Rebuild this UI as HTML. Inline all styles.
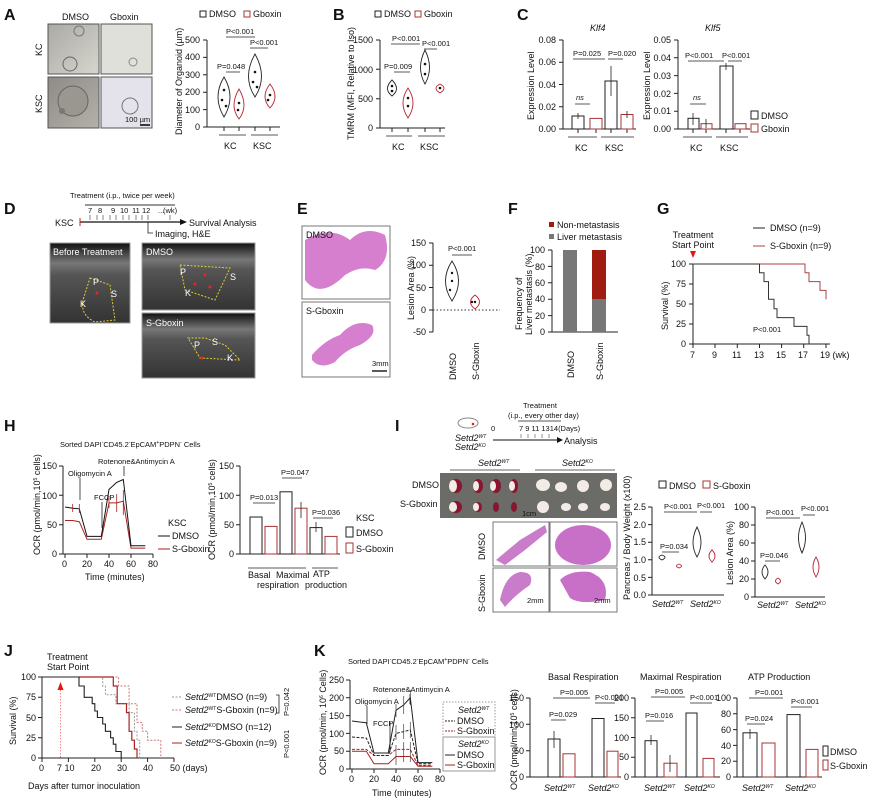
<!DOCTYPE html>
<html><head><meta charset="utf-8"><style>
html,body{margin:0;padding:0;background:#fff}
svg{display:block}
text{font-family:"Liberation Sans",Arial,sans-serif;fill:#111}
.L{font-weight:bold;font-size:16px}
.t{font-size:9px}
.s{font-size:7.5px}
.ax{stroke:#222;stroke-width:1;fill:none}
.k{stroke:#222;stroke-width:1;fill:#fff}
.r{stroke:#a33;stroke-width:1;fill:#fff}
.vk{stroke:#222;stroke-width:0.9;fill:#fff}
.vr{stroke:#b23;stroke-width:0.9;fill:#fff}
.ln{stroke:#222;stroke-width:0.8;fill:none}
</style></head><body>
<svg width="869" height="804" viewBox="0 0 869 804" xmlns="http://www.w3.org/2000/svg">
<defs>
<linearGradient id="us" x1="0" y1="0" x2="0" y2="1"><stop offset="0" stop-color="#111"/><stop offset="0.25" stop-color="#777"/><stop offset="0.4" stop-color="#555"/><stop offset="1" stop-color="#333"/></linearGradient>
<linearGradient id="org" x1="0" y1="0" x2="1" y2="1"><stop offset="0" stop-color="#aaa9a3"/><stop offset="1" stop-color="#d6d6cf"/></linearGradient>
<linearGradient id="org2" x1="0" y1="0" x2="1" y2="1"><stop offset="0" stop-color="#8e8a85"/><stop offset="1" stop-color="#b4b0aa"/></linearGradient>
</defs>

<!-- ================= A ================= -->
<text x="4" y="20" class="L">A</text>
<text x="62" y="20" class="t" font-size="10">DMSO</text><text x="110" y="20" class="t" font-size="10">Gboxin</text>
<rect x="48" y="24" width="51" height="50" fill="url(#org)" stroke="#555"/>
<rect x="101" y="24" width="51" height="50" fill="#dfe0d9" stroke="#555"/>
<rect x="48" y="77" width="51" height="51" fill="url(#org2)" stroke="#555"/>
<rect x="101" y="77" width="51" height="51" fill="#e4e2ea" stroke="#555"/>
<circle cx="79" cy="31" r="5" fill="none" stroke="#777"/><circle cx="70" cy="64" r="7" fill="none" stroke="#666"/>
<circle cx="73" cy="101" r="15" fill="#9a9690" stroke="#666"/><circle cx="130" cy="106" r="8" fill="none" stroke="#777"/>
<circle cx="133" cy="62" r="4" fill="none" stroke="#888"/><circle cx="62" cy="111" r="3" fill="#777"/>
<line x1="140" y1="125" x2="150" y2="125" stroke="#000" stroke-width="1.5"/><text x="125" y="122" class="s" font-size="8">100 µm</text>
<text transform="translate(42,56) rotate(-90)" class="t" font-size="10">KC</text>
<text transform="translate(42,113) rotate(-90)" class="t" font-size="10">KSC</text>

<rect x="200" y="11" width="6" height="6" class="k"/><text x="209" y="17" class="t">DMSO</text>
<rect x="244" y="11" width="6" height="6" class="r"/><text x="253" y="17" class="t">Gboxin</text>
<path class="ax" d="M207,40V127H280M203,40H207M203,57.4H207M203,74.8H207M203,92.2H207M203,109.6H207M203,127H207M224,127V131M239,127V131M255,127V131M270,127V131"/>
<text x="200" y="43" class="t" text-anchor="end">500</text><text x="200" y="60" class="t" text-anchor="end">400</text><text x="200" y="78" class="t" text-anchor="end">300</text><text x="200" y="95" class="t" text-anchor="end">200</text><text x="200" y="113" class="t" text-anchor="end">100</text><text x="200" y="130" class="t" text-anchor="end">0</text>
<text transform="translate(182,135) rotate(-90)" class="t">Diameter of Organoid (µm)</text>
<path class="vk" d="M224,77Q236,97 224,117Q212,97 224,77Z"/><path class="vr" d="M239,89Q249,106 239,119Q229,106 239,89Z"/>
<path class="vk" d="M255,54Q268,77 255,97Q242,77 255,54Z"/><path class="vr" d="M270,84Q280,97 270,108Q260,97 270,84Z"/>
<g fill="#111"><circle cx="224" cy="90" r="1.3"/><circle cx="222" cy="100" r="1.3"/><circle cx="226" cy="106" r="1.3"/><circle cx="239" cy="103" r="1.3"/><circle cx="238" cy="110" r="1.3"/><circle cx="255" cy="72" r="1.3"/><circle cx="253" cy="82" r="1.3"/><circle cx="257" cy="87" r="1.3"/><circle cx="270" cy="95" r="1.3"/><circle cx="268" cy="100" r="1.3"/></g>
<path class="ln" d="M226,72H240M226,37H255M250,48H268M219,135H246M251,135H278"/>
<text x="217" y="69" class="s">P=0.048</text><text x="226" y="34" class="s">P&lt;0.001</text><text x="250" y="45" class="s">P&lt;0.001</text>
<text x="224" y="149" class="t" font-size="10">KC</text><text x="253" y="149" class="t" font-size="10">KSC</text>

<!-- ================= B ================= -->
<text x="333" y="20" class="L">B</text>
<rect x="375" y="11" width="6" height="6" class="k"/><text x="384" y="17" class="t">DMSO</text>
<rect x="415" y="11" width="6" height="6" class="r"/><text x="424" y="17" class="t">Gboxin</text>
<path class="ax" d="M380,40V128H445M376,40H380M376,69.3H380M376,98.7H380M376,128H380M392,128V132M408,128V132M425,128V132M440,128V132"/>
<text x="373" y="43" class="t" text-anchor="end">1500</text><text x="373" y="73" class="t" text-anchor="end">1000</text><text x="373" y="102" class="t" text-anchor="end">500</text><text x="373" y="131" class="t" text-anchor="end">0</text>
<text transform="translate(354,140) rotate(-90)" class="t">TMRM (MFI, Relative to Iso)</text>
<path class="vk" d="M392,80Q401,89 392,96Q383,89 392,80Z"/><path class="vr" d="M408,88Q418,103 408,118Q398,103 408,88Z"/>
<path class="vk" d="M425,50Q434,68 425,84Q416,68 425,50Z"/><path class="vr" d="M440,84Q448,88 440,93Q432,88 440,84Z"/>
<g fill="#111"><circle cx="392" cy="86" r="1.3"/><circle cx="392" cy="91" r="1.3"/><circle cx="408" cy="98" r="1.3"/><circle cx="408" cy="106" r="1.3"/><circle cx="425" cy="64" r="1.3"/><circle cx="425" cy="74" r="1.3"/><circle cx="440" cy="88" r="1.3"/></g>
<path class="ln" d="M394,72H410M391,44H420M424,49H437M386,136H412M418,136H445"/>
<text x="384" y="69" class="s">P=0.009</text><text x="392" y="41" class="s">P&lt;0.001</text><text x="422" y="46" class="s">P&lt;0.001</text>
<text x="392" y="150" class="t" font-size="10">KC</text><text x="420" y="150" class="t" font-size="10">KSC</text>

<!-- ================= C ================= -->
<text x="517" y="20" class="L">C</text>
<text x="590" y="31" class="t" font-style="italic" font-size="10">Klf4</text>
<text x="705" y="31" class="t" font-style="italic" font-size="10">Klf5</text>
<path class="ax" d="M563,40V129H636M559,40H563M559,62.2H563M559,84.5H563M559,106.7H563M559,129H563M578,129V133M596,129V133M611,129V133M627,129V133"/>
<text x="556" y="43" class="t" text-anchor="end">0.08</text><text x="556" y="65" class="t" text-anchor="end">0.06</text><text x="556" y="88" class="t" text-anchor="end">0.04</text><text x="556" y="110" class="t" text-anchor="end">0.02</text><text x="556" y="132" class="t" text-anchor="end">0.00</text>
<text transform="translate(534,120) rotate(-90)" class="t" font-size="10">Expression Level</text>
<rect x="572" y="116" width="12" height="13" class="k"/><rect x="590" y="118.4" width="12" height="10.6" class="r"/><rect x="605" y="81" width="12" height="48" class="k"/><rect x="621" y="114.5" width="12" height="14.5" class="r"/>
<path class="ln" d="M578,113V119M611,66V96M627,111V118M575,104H590M573,59H605M608,59H623M568,137H597M601,137H634"/>
<text x="576" y="100" class="s" font-style="italic">ns</text><text x="573" y="56" class="s">P=0.025</text><text x="608" y="56" class="s">P=0.020</text>
<text x="575" y="151" class="t" font-size="10">KC</text><text x="605" y="151" class="t" font-size="10">KSC</text>

<path class="ax" d="M678,40V129H750M674,40H678M674,57.8H678M674,75.6H678M674,93.4H678M674,111.2H678M674,129H678M693,129V133M706,129V133M726,129V133M740,129V133"/>
<text x="671" y="43" class="t" text-anchor="end">0.05</text><text x="671" y="61" class="t" text-anchor="end">0.04</text><text x="671" y="79" class="t" text-anchor="end">0.03</text><text x="671" y="97" class="t" text-anchor="end">0.02</text><text x="671" y="114" class="t" text-anchor="end">0.01</text><text x="671" y="132" class="t" text-anchor="end">0.00</text>
<text transform="translate(650,120) rotate(-90)" class="t" font-size="10">Expression Level</text>
<rect x="688" y="118.3" width="11" height="10.7" class="k"/><rect x="701" y="123.7" width="11" height="5.3" class="r"/><rect x="720" y="66" width="13" height="63" class="k"/><rect x="735" y="123.7" width="11" height="5.3" class="r"/>
<path class="ln" d="M693,113V125M706,119V128M726,63V70M690,104H706M688,61H724M728,61H742M683,137H712M716,137H748"/>
<text x="693" y="100" class="s" font-style="italic">ns</text><text x="685" y="58" class="s">P&lt;0.001</text><text x="722" y="58" class="s">P&lt;0.001</text>
<text x="690" y="151" class="t" font-size="10">KC</text><text x="720" y="151" class="t" font-size="10">KSC</text>
<rect x="751" y="111" width="7" height="8" class="k"/><text x="761" y="119" class="t" font-size="10">DMSO</text>
<rect x="751" y="124" width="7" height="8" class="r"/><text x="761" y="132" class="t" font-size="10">Gboxin</text>

<!-- ================= D ================= -->
<text x="4" y="214" class="L">D</text>
<text x="70" y="198" class="s" font-size="8.5">Treatment (i.p., twice per week)</text>
<line x1="85" y1="205" x2="175" y2="205" stroke="#777" stroke-width="1.5"/>
<text x="88" y="213" class="s">7</text><text x="98" y="213" class="s">8</text><text x="111" y="213" class="s">9</text><text x="120" y="213" class="s">10</text><text x="132" y="213" class="s">11</text><text x="142" y="213" class="s">12</text><text x="158" y="213" class="s">...</text><text x="163" y="213" class="s">(wk)</text>
<path d="M90,215V220M97,215V220M103,215V220M110,215V220M116,215V220M123,215V220M129,215V220M136,215V220M142,215V220M148,215V220M170,215V220" stroke="#666" stroke-width="0.8"/>
<text x="55" y="226" class="t" font-size="10">KSC</text>
<line x1="80" y1="222" x2="180" y2="222" stroke="#111" stroke-width="1.3"/><path d="M180,219L187,222L180,225Z" fill="#111"/><line x1="80" y1="218" x2="80" y2="226" stroke="#c22"/>
<text x="189" y="226" class="t" font-size="9.5">Survival Analysis</text>
<path d="M148,222V233H153" class="ln"/><text x="155" y="237" class="t">Imaging, H&amp;E</text>
<rect x="50" y="243" width="80" height="80" fill="url(#us)" stroke="#999"/>
<rect x="142" y="243" width="113" height="67" fill="url(#us)" stroke="#999"/>
<rect x="142" y="313" width="113" height="65" fill="url(#us)" stroke="#999"/>
<text x="53" y="255" class="t" font-size="10" style="fill:#fff">Before Treatment</text>
<text x="146" y="255" class="t" font-size="10" style="fill:#fff">DMSO</text>
<text x="146" y="326" class="t" font-size="10" style="fill:#fff">S-Gboxin</text>
<path d="M90,278L110,285L115,320L95,322Q80,315 83,300Z" fill="none" stroke="#dc3" stroke-dasharray="2,1.5"/>
<path d="M180,265L230,268L215,300L185,290Z" fill="none" stroke="#dc3" stroke-dasharray="2,1.5"/>
<path d="M188,338L205,338L225,345L240,360L200,358Z" fill="none" stroke="#dc3" stroke-dasharray="2,1.5"/>
<g class="t" font-size="10" style="fill:#fff"><text x="93" y="285" style="fill:#fff">P</text><text x="80" y="307" style="fill:#fff">K</text><text x="111" y="297" style="fill:#fff">S</text><text x="180" y="275" style="fill:#fff">P</text><text x="185" y="296" style="fill:#fff">K</text><text x="230" y="280" style="fill:#fff">S</text><text x="194" y="348" style="fill:#fff">P</text><text x="212" y="345" style="fill:#fff">S</text><text x="227" y="361" style="fill:#fff">K</text></g>
<g fill="#e22"><circle cx="97" cy="293" r="1.5"/><circle cx="205" cy="275" r="1.5"/><circle cx="195" cy="284" r="1.5"/><circle cx="210" cy="287" r="1.5"/><circle cx="202" cy="358" r="1.5"/></g>

<!-- ================= E ================= -->
<text x="297" y="214" class="L">E</text>
<rect x="302" y="226" width="88" height="73" fill="#fff" stroke="#777"/>
<rect x="302" y="302" width="88" height="75" fill="#fff" stroke="#777"/>
<path d="M305,240Q330,225 350,240Q365,225 385,235Q392,260 375,270Q360,265 345,275Q320,300 305,280Z" fill="#d77fcf"/>
<path d="M312,355Q325,340 340,335Q355,318 372,325Q378,335 360,345Q345,350 335,362Q320,370 312,360Z" fill="#d77fcf"/>
<text x="306" y="238" class="t" font-size="10">DMSO</text><text x="306" y="314" class="t" font-size="10">S-Gboxin</text>
<text x="372" y="366" class="s" font-size="6">3mm</text><line x1="372" y1="371" x2="387" y2="371" stroke="#000" stroke-width="1.3"/>
<path class="ax" d="M433,243V332M429,243H433M429,265.3H433M429,287.5H433M429,310H433M429,332H433"/>
<text x="426" y="246" class="t" text-anchor="end">150</text><text x="426" y="268" class="t" text-anchor="end">100</text><text x="426" y="291" class="t" text-anchor="end">50</text><text x="426" y="313" class="t" text-anchor="end">0</text><text x="426" y="335" class="t" text-anchor="end">-50</text>
<text transform="translate(414,320) rotate(-90)" class="t">Lesion Area (%)</text>
<line x1="433" y1="310" x2="500" y2="310" stroke="#333" stroke-dasharray="1.5,2"/>
<path class="vk" d="M452,261Q465,281 452,301Q439,281 452,261Z"/><path class="vr" d="M475,295Q484,302 475,309Q466,302 475,295Z"/>
<g fill="#111"><circle cx="452" cy="273" r="1.2"/><circle cx="452" cy="281" r="1.2"/><circle cx="450" cy="290" r="1.2"/><circle cx="475" cy="302" r="1.2"/><circle cx="472" cy="302" r="1.2"/></g>
<path class="ln" d="M452,255H472"/><text x="448" y="251" class="s">P&lt;0.001</text>
<text transform="translate(456,380) rotate(-90)" class="t" font-size="10">DMSO</text>
<text transform="translate(479,380) rotate(-90)" class="t" font-size="10">S-Gboxin</text>

<!-- ================= F ================= -->
<text x="508" y="214" class="L">F</text>
<rect x="549" y="222" width="5" height="5" fill="#a01b10"/><text x="557" y="228" class="t" font-size="9.5">Non-metastasis</text>
<rect x="549" y="234" width="5" height="5" fill="#777"/><text x="557" y="240" class="t" font-size="9.5">Liver metastasis</text>
<path class="ax" d="M552,250V332H618M548,250H552M548,266.4H552M548,282.8H552M548,299.2H552M548,315.6H552M548,332H552"/>
<text x="545" y="253" class="t" text-anchor="end">100</text><text x="545" y="270" class="t" text-anchor="end">80</text><text x="545" y="286" class="t" text-anchor="end">60</text><text x="545" y="302" class="t" text-anchor="end">40</text><text x="545" y="319" class="t" text-anchor="end">20</text><text x="545" y="335" class="t" text-anchor="end">0</text>
<text transform="translate(522,330) rotate(-90)" class="t">Frequency of</text><text transform="translate(532,335) rotate(-90)" class="t">Liver metastasis (%)</text>
<rect x="563" y="250" width="14" height="82" fill="#777"/>
<rect x="592" y="250" width="14" height="49" fill="#a01b10"/><rect x="592" y="299" width="14" height="33" fill="#777"/>
<text transform="translate(574,378) rotate(-90)" class="t" font-size="10">DMSO</text>
<text transform="translate(603,380) rotate(-90)" class="t" font-size="10">S-Gboxin</text>

<!-- ================= G ================= -->
<text x="657" y="214" class="L">G</text>
<path d="M753,228H765" stroke="#222"/><text x="770" y="231" class="t">DMSO (n=9)</text>
<path d="M753,246H765" stroke="#a44"/><text x="770" y="249" class="t">S-Gboxin (n=9)</text>
<text x="693" y="238" class="t" text-anchor="middle">Treatment</text><text x="693" y="248" class="t" text-anchor="middle">Start Point</text>
<path d="M690,251H696L693,258Z" fill="#e11"/>
<path class="ax" d="M693,264V344H830M689,264H693M689,284H693M689,304H693M689,324H693M689,344H693M693,344V348M715,344V348M737.3,344V348M759.5,344V348M781.6,344V348M803.7,344V348M826,344V348"/>
<text x="686" y="267" class="t" text-anchor="end">100</text><text x="686" y="287" class="t" text-anchor="end">75</text><text x="686" y="307" class="t" text-anchor="end">50</text><text x="686" y="327" class="t" text-anchor="end">25</text><text x="686" y="347" class="t" text-anchor="end">0</text>
<text transform="translate(668,330) rotate(-90)" class="t">Survival (%)</text>
<text x="690" y="358" class="t">7</text><text x="712" y="358" class="t">9</text><text x="732" y="358" class="t">11</text><text x="754" y="358" class="t">13</text><text x="776" y="358" class="t">15</text><text x="798" y="358" class="t">17</text><text x="820" y="358" class="t">19 (wk)</text>
<path d="M759.5,264H805V272.8H809V281.6H820V290.4H826V299.2" stroke="#a44" fill="none"/>
<path d="M693,264H759.5V272.8H764V281.6H768.5V299.2H774V308.8H777V317.6H794V326.4H807V335.2H809V344" stroke="#333" fill="none"/>
<text x="753" y="332" class="s">P&lt;0.001</text>

<!-- ================= H ================= -->
<text x="4" y="431" class="L">H</text>
<text x="60" y="447" class="s" font-size="8">Sorted DAPI<tspan font-size="5" dy="-3">-</tspan><tspan dy="3">CD45.2</tspan><tspan font-size="5" dy="-3">-</tspan><tspan dy="3">EpCAM</tspan><tspan font-size="5" dy="-3">+</tspan><tspan dy="3">PDPN</tspan><tspan font-size="5" dy="-3">-</tspan><tspan dy="3"> Cells</tspan></text>
<path class="ax" d="M63,466V554H153M59,466H63M59,495.3H63M59,524.7H63M59,554H63M65,554V558M87,554V558M109,554V558M131,554V558M153,554V558"/>
<text x="57" y="469" class="t" text-anchor="end">150</text><text x="57" y="499" class="t" text-anchor="end">100</text><text x="57" y="528" class="t" text-anchor="end">50</text><text x="57" y="557" class="t" text-anchor="end">0</text>
<text x="62" y="567" class="t">0</text><text x="82" y="567" class="t">20</text><text x="104" y="567" class="t">40</text><text x="126" y="567" class="t">60</text><text x="148" y="567" class="t">80</text>
<text x="85" y="580" class="t" font-size="10">Time (minutes)</text>
<text transform="translate(40,555) rotate(-90)" class="t">OCR (pmol/min,10<tspan font-size="5" dy="-3">5</tspan><tspan dy="3"> cells)</tspan></text>
<polyline points="65,520.5 72.7,520.5 79.3,521.7 87,539.3 94.7,539.3 101.3,539.3 109,502.9 116.7,502.9 123.3,501.2 131,548.1 138.7,548.1 145.3,548.1" fill="none" stroke="#a22" stroke-width="1"/>
<polyline points="65,507 72.7,508.2 79.3,508.8 87,536.4 94.7,536.4 101.3,536.4 109,489.4 116.7,482.4 123.3,479.5 131,545.8 138.7,545.8 145.3,545.8" fill="none" stroke="#111" stroke-width="1"/>
<path d="M109,496V508M116.7,494V512M123.3,490V515M72.7,504V512M79.3,504V513" stroke="#a22" stroke-width="0.8"/>
<text x="68" y="476" class="s">Oligomycin A</text><path d="M80,478V500" class="ln"/>
<text x="94" y="500" class="s">FCCP</text><path d="M102,502V528" class="ln"/>
<text x="98" y="464" class="s">Rotenone&amp;Antimycin A</text><path d="M124,466V476" class="ln"/>
<text x="168" y="526" class="t" font-size="9.5">KSC</text>
<path d="M158,536H170" stroke="#111"/><text x="172" y="539" class="t" font-size="9.5">DMSO</text>
<path d="M158,549H170" stroke="#a22"/><text x="172" y="552" class="t" font-size="9.5">S-Gboxin</text>

<path class="ax" d="M240,466V554H340M236,466H240M236,495.3H240M236,524.7H240M236,554H240"/>
<text x="234" y="469" class="t" text-anchor="end">150</text><text x="234" y="499" class="t" text-anchor="end">100</text><text x="234" y="528" class="t" text-anchor="end">50</text><text x="234" y="557" class="t" text-anchor="end">0</text>
<text transform="translate(215,560) rotate(-90)" class="t">OCR (pmol/min,10<tspan font-size="5" dy="-3">5</tspan><tspan dy="3"> cells)</tspan></text>
<rect x="250" y="517" width="12" height="37" class="k"/><rect x="265" y="526.4" width="12" height="27.6" class="r"/>
<rect x="280" y="491.8" width="12" height="62.2" class="k"/><rect x="295" y="508.2" width="12" height="45.8" class="r"/>
<rect x="310" y="527.6" width="12" height="26.4" class="k"/><rect x="325" y="536.4" width="12" height="17.6" class="r"/>
<path class="ln" d="M253,503H275M282,478H302M313,518H333M248,568H306M312,568H338M301,502V518M316,522V532"/>
<text x="250" y="500" class="s">P=0.013</text><text x="281" y="475" class="s">P=0.047</text><text x="312" y="515" class="s">P=0.036</text>
<text x="248" y="578" class="t" font-size="9.5">Basal</text><text x="276" y="578" class="t" font-size="9.5">Maximal</text><text x="313" y="577" class="t" font-size="9.5">ATP</text>
<text x="257" y="588" class="t" font-size="9.5">respiration</text><text x="305" y="588" class="t" font-size="9.5">production</text>
<text x="356" y="521" class="t" font-size="9.5">KSC</text>
<rect x="346" y="527" width="7" height="10" class="k"/><text x="356" y="536" class="t" font-size="9.5">DMSO</text>
<rect x="346" y="543" width="7" height="10" class="r"/><text x="356" y="552" class="t" font-size="9.5">S-Gboxin</text>

<!-- ================= I ================= -->
<text x="395" y="431" class="L">I</text>
<ellipse cx="468" cy="423" rx="10" ry="5" fill="#fff" stroke="#888"/><circle cx="473" cy="424" r="1.3" fill="#d22"/>
<text x="491" y="431" class="s">0</text>
<text x="523" y="408" class="s">Treatment</text><text x="508" y="418" class="s" font-size="6">(i.p., every other day)</text>
<line x1="518" y1="421" x2="561" y2="421" stroke="#555"/>
<text x="519" y="431" class="s">7  9 11 1314(Days)</text>
<path d="M521,434V438M528,434V438M535,434V438M542,434V438M549,434V438" stroke="#666" stroke-width="0.7"/>
<line x1="493" y1="440" x2="558" y2="440" stroke="#111"/><path d="M557,437L563,440L557,443Z" fill="#111"/>
<text x="564" y="444" class="t" font-size="9.5">Analysis</text>
<text x="455" y="441" class="t" font-style="italic">Setd2<tspan font-size="5" dy="-3">WT</tspan></text>
<text x="455" y="450" class="t" font-style="italic">Setd2<tspan font-size="5" dy="-3">KO</tspan></text>
<text x="478" y="466" class="t" font-style="italic">Setd2<tspan font-size="5" dy="-3">WT</tspan></text>
<text x="562" y="466" class="t" font-style="italic">Setd2<tspan font-size="5" dy="-3">KO</tspan></text>
<path d="M450,470H520M535,470H615" stroke="#666"/>
<text x="412" y="488" class="t">DMSO</text><text x="400" y="507" class="t">S-Gboxin</text>
<rect x="440" y="473" width="177" height="45" fill="#6b6b68"/>
<g fill="#8a1530"><ellipse cx="456" cy="486" rx="6" ry="7"/><ellipse cx="478" cy="486" rx="5" ry="7"/><ellipse cx="496" cy="486" rx="5" ry="7"/><ellipse cx="514" cy="486" rx="4" ry="7"/><ellipse cx="456" cy="507" rx="6" ry="6"/><ellipse cx="478" cy="507" rx="4" ry="5"/><ellipse cx="496" cy="507" rx="3" ry="5"/><ellipse cx="514" cy="507" rx="3" ry="5"/></g>
<g fill="#f2ebe6"><ellipse cx="453" cy="486" rx="4" ry="6"/><ellipse cx="476" cy="486" rx="3" ry="5"/><ellipse cx="493" cy="486" rx="3" ry="5"/><ellipse cx="512" cy="486" rx="3" ry="5"/><ellipse cx="543" cy="485" rx="7" ry="6"/><ellipse cx="561" cy="487" rx="6" ry="5"/><ellipse cx="583" cy="486" rx="6" ry="6"/><ellipse cx="606" cy="485" rx="6" ry="6"/><ellipse cx="453" cy="507" rx="4" ry="5"/><ellipse cx="476" cy="507" rx="3" ry="4"/><ellipse cx="543" cy="507" rx="6" ry="6"/><ellipse cx="566" cy="507" rx="5" ry="4"/><ellipse cx="583" cy="507" rx="5" ry="4"/><ellipse cx="605" cy="507" rx="5" ry="4"/></g>
<text x="522" y="516" class="s" font-size="6">1cm</text>
<rect x="493" y="522" width="56" height="44" fill="#fff" stroke="#777"/><rect x="550" y="522" width="67" height="44" fill="#fff" stroke="#777"/>
<rect x="493" y="568" width="56" height="44" fill="#fff" stroke="#777"/><rect x="550" y="568" width="67" height="44" fill="#fff" stroke="#777"/>
<path d="M496,560L520,540L545,525L547,532L525,550L505,565Z" fill="#c97cc9"/>
<ellipse cx="583" cy="545" rx="28" ry="20" fill="#c870c8"/>
<path d="M500,600Q505,575 520,572Q535,572 530,585Q515,595 505,607Z" fill="#c97cc9"/>
<path d="M560,580Q570,570 590,572Q610,580 605,600Q580,605 570,598Z" fill="#c870c8"/>
<text transform="translate(485,560) rotate(-90)" class="t">DMSO</text><text transform="translate(485,612) rotate(-90)" class="t">S-Gboxin</text>
<text x="527" y="603" class="s" font-size="7">2mm</text><text x="594" y="603" class="s" font-size="7">2mm</text>

<rect x="659" y="481" width="7" height="7" class="k"/><text x="669" y="489" class="t" font-size="9.5">DMSO</text>
<rect x="703" y="481" width="7" height="7" class="r"/><text x="713" y="489" class="t" font-size="9.5">S-Gboxin</text>
<path class="ax" d="M652,507V595H724M648,507H652M648,524.6H652M648,542.2H652M648,559.8H652M648,577.4H652M648,595H652"/>
<text x="646" y="510" class="t" text-anchor="end">2.5</text><text x="646" y="528" class="t" text-anchor="end">2.0</text><text x="646" y="545" class="t" text-anchor="end">1.5</text><text x="646" y="563" class="t" text-anchor="end">1.0</text><text x="646" y="581" class="t" text-anchor="end">0.5</text><text x="646" y="598" class="t" text-anchor="end">0.0</text>
<text transform="translate(630,600) rotate(-90)" class="t">Pancreas / Body Weight (x100)</text>
<path class="vk" d="M662,555Q668,557 662,560Q656,557 662,555Z"/><path class="vr" d="M679,564Q684,566 679,568Q674,566 679,564Z"/>
<path class="vk" d="M697,527Q705,543 697,557Q689,543 697,527Z"/><path class="vr" d="M712,550Q718,556 712,562Q706,556 712,550Z"/>
<path class="ln" d="M662,552H679M664,512H697M700,512H712"/>
<text x="660" y="549" class="s">P=0.034</text><text x="664" y="509" class="s">P&lt;0.001</text><text x="697" y="508" class="s">P&lt;0.001</text>
<text x="652" y="607" class="t" font-style="italic">Setd2<tspan font-size="5" dy="-3">WT</tspan></text><text x="690" y="607" class="t" font-style="italic">Setd2<tspan font-size="5" dy="-3">KO</tspan></text>
<path class="ax" d="M755,507V597H825M751,507H755M751,525H755M751,543H755M751,561H755M751,579H755M751,597H755"/>
<text x="749" y="510" class="t" text-anchor="end">100</text><text x="749" y="528" class="t" text-anchor="end">80</text><text x="749" y="546" class="t" text-anchor="end">60</text><text x="749" y="564" class="t" text-anchor="end">40</text><text x="749" y="582" class="t" text-anchor="end">20</text><text x="749" y="600" class="t" text-anchor="end">0</text>
<text transform="translate(733,585) rotate(-90)" class="t">Lesion Area (%)</text>
<path class="vk" d="M765,565Q771,572 765,579Q759,572 765,565Z"/><path class="vr" d="M778,578Q783,581 778,584Q773,581 778,578Z"/>
<path class="vk" d="M802,522Q809,538 802,553Q795,538 802,522Z"/><path class="vr" d="M816,557Q822,567 816,577Q810,567 816,557Z"/>
<path class="ln" d="M765,561H780M766,518H800M803,515H815"/>
<text x="760" y="558" class="s">P=0.046</text><text x="766" y="515" class="s">P&lt;0.001</text><text x="801" y="511" class="s">P&lt;0.001</text>
<text x="757" y="608" class="t" font-style="italic">Setd2<tspan font-size="5" dy="-3">WT</tspan></text><text x="795" y="608" class="t" font-style="italic">Setd2<tspan font-size="5" dy="-3">KO</tspan></text>

<!-- ================= J ================= -->
<text x="4" y="656" class="L">J</text>
<text x="47" y="660" class="t">Treatment</text><text x="47" y="670" class="t">Start Point</text>
<path class="ax" d="M42,677V758H174M38,677H42M38,697.3H42M38,717.5H42M38,737.8H42M38,758H42M42,758V762M68.4,758V762M94.8,758V762M121.2,758V762M147.6,758V762M174,758V762"/>
<text x="36" y="680" class="t" text-anchor="end">100</text><text x="36" y="700" class="t" text-anchor="end">75</text><text x="36" y="721" class="t" text-anchor="end">50</text><text x="36" y="741" class="t" text-anchor="end">25</text><text x="36" y="761" class="t" text-anchor="end">0</text>
<text transform="translate(16,745) rotate(-90)" class="t">Survival (%)</text>
<text x="39" y="771" class="t">0</text><text x="57" y="771" class="t">7 10</text><text x="91" y="771" class="t">20</text><text x="117" y="771" class="t">30</text><text x="143" y="771" class="t">40</text><text x="170" y="771" class="t">50 (days)</text>
<text x="28" y="789" class="t" font-size="10">Days after tumor inoculation</text>
<line x1="42" y1="677" x2="79" y2="677" stroke="#555" stroke-dasharray="2,1.5"/>
<line x1="60.5" y1="690" x2="60.5" y2="758" stroke="#e88" stroke-dasharray="1.5,1.5"/><path d="M57.5,690H63.5L60.5,682Z" fill="#e11"/>
<path d="M42,677H118.6V686H129.1V703.7H137V722.4H142.3V731.3H147.6V740.2H160.8V758" stroke="#c77" stroke-dasharray="2,1.5" fill="none"/>
<path d="M79,677H102.7V686H105.4V694.8H115.9V703.7H129.1V712.6H134.4V731.3H137V740.2H139.7V758" stroke="#999" stroke-dasharray="2,1.5" fill="none"/>
<path d="M79,677H113.3V686H117.2V703.7H126.5V712.6H129.1V731.3H131.8V740.2H134.4V749H137V758" stroke="#a22" stroke-width="1.2" fill="none"/>
<path d="M42,677H79V686H84.2V697.3H92.2V703.7H94.8V711H97.4V717.5H102.7V724H105.4V731.3H110.6V737.8H113.3V744.2H115.9V751.5H121.2V758" stroke="#222" stroke-width="1.1" fill="none"/>
<path d="M172,697H182" stroke="#999" stroke-dasharray="2,1.5"/><text x="185" y="700" class="t" font-size="9.5"><tspan font-style="italic">Setd2</tspan><tspan font-size="5" dy="-3">WT</tspan><tspan dy="3">DMSO (n=9)</tspan></text>
<path d="M172,710H182" stroke="#c77" stroke-dasharray="2,1.5"/><text x="185" y="713" class="t" font-size="9.5"><tspan font-style="italic">Setd2</tspan><tspan font-size="5" dy="-3">WT</tspan><tspan dy="3">S-Gboxin (n=9)</tspan></text>
<path d="M172,727H182" stroke="#222"/><text x="185" y="730" class="t" font-size="9.5"><tspan font-style="italic">Setd2</tspan><tspan font-size="5" dy="-3">KO</tspan><tspan dy="3">DMSO (n=12)</tspan></text>
<path d="M172,743H182" stroke="#a22"/><text x="185" y="746" class="t" font-size="9.5"><tspan font-style="italic">Setd2</tspan><tspan font-size="5" dy="-3">KO</tspan><tspan dy="3">S-Gboxin (n=9)</tspan></text>
<path class="ln" d="M276,695H279V713H276"/>
<text transform="translate(289,716) rotate(-90)" class="s">P=0.042</text>
<text transform="translate(289,758) rotate(-90)" class="s">P&lt;0.001</text>

<!-- ================= K ================= -->
<text x="314" y="656" class="L">K</text>
<text x="348" y="664" class="s" font-size="8">Sorted DAPI<tspan font-size="5" dy="-3">-</tspan><tspan dy="3">CD45.2</tspan><tspan font-size="5" dy="-3">-</tspan><tspan dy="3">EpCAM</tspan><tspan font-size="5" dy="-3">+</tspan><tspan dy="3">PDPN</tspan><tspan font-size="5" dy="-3">-</tspan><tspan dy="3"> Cells</tspan></text>
<path class="ax" d="M350,680V769H440M346,680H350M346,697.8H350M346,715.6H350M346,733.4H350M346,751.2H350M346,769H350M352,769V773M374,769V773M396,769V773M418,769V773M440,769V773"/>
<text x="344" y="683" class="t" text-anchor="end">250</text><text x="344" y="701" class="t" text-anchor="end">200</text><text x="344" y="719" class="t" text-anchor="end">150</text><text x="344" y="737" class="t" text-anchor="end">100</text><text x="344" y="754" class="t" text-anchor="end">50</text><text x="344" y="772" class="t" text-anchor="end">0</text>
<text x="349" y="782" class="t">0</text><text x="369" y="782" class="t">20</text><text x="391" y="782" class="t">40</text><text x="413" y="782" class="t">60</text><text x="435" y="782" class="t">80</text>
<text x="372" y="796" class="t" font-size="10">Time (minutes)</text>
<text transform="translate(326,775) rotate(-90)" class="t">OCR (pmol/min, 10<tspan font-size="5" dy="-3">6</tspan><tspan dy="3"> Cells)</tspan></text>
<polyline points="352,749.4 359.7,749.4 366.3,749.4 374,755.5 381.7,755.5 388.3,755.5 396,749.4 403.7,749.4 410.3,749.4 418,765.4 425.7,765.4 432.3,765.4" fill="none" stroke="#a22" stroke-dasharray="3,1.5"/>
<polyline points="352,751.2 359.7,751.2 366.3,751.2 374,763.7 381.7,763.7 388.3,763.7 396,756.5 403.7,756.5 410.3,756.5 418,766.2 425.7,766.2 432.3,766.2" fill="none" stroke="#a22"/>
<polyline points="352,737 359.7,737.7 366.3,738 374,755.5 381.7,755.5 388.3,755.5 396,733.4 403.7,731.6 410.3,729.8 418,763.7 425.7,763.7 432.3,763.7" fill="none" stroke="#222" stroke-dasharray="3,1.5"/>
<polyline points="352,721 359.7,722 366.3,722.7 374,753 381.7,753 388.3,753 396,710.3 403.7,704.9 410.3,697.8 418,762.6 425.7,762.6 432.3,762.6" fill="none" stroke="#222"/>
<path d="M396,704V717M403.7,696V714M410.3,690V705M396,725V740M403.7,724V739M410.3,722V738M396,745V765M403.7,742V762M410.3,742V762" stroke="#444" stroke-width="0.7"/>
<text x="355" y="704" class="s">Oligomycin A</text><path d="M367,706V724" class="ln"/>
<text x="373" y="726" class="s">FCCP</text><path d="M390,722V752" class="ln"/>
<text x="373" y="692" class="s">Rotenone&amp;Antimycin A</text><path d="M410,694V704" class="ln"/>
<rect x="443" y="702" width="52" height="35" fill="none" stroke="#999" stroke-dasharray="1.5,1.5"/>
<rect x="443" y="737" width="52" height="34" fill="none" stroke="#999"/>
<text x="458" y="713" class="t" font-style="italic">Setd2<tspan font-size="5" dy="-3">WT</tspan></text>
<path d="M445,721H455" stroke="#222" stroke-dasharray="2,1"/><text x="457" y="724" class="t" font-size="9.5">DMSO</text>
<path d="M445,731H455" stroke="#a22" stroke-dasharray="2,1"/><text x="457" y="734" class="t" font-size="9.5">S-Gboxin</text>
<text x="458" y="747" class="t" font-style="italic">Setd2<tspan font-size="5" dy="-3">KO</tspan></text>
<path d="M445,755H455" stroke="#222"/><text x="457" y="758" class="t" font-size="9.5">DMSO</text>
<path d="M445,765H455" stroke="#a22"/><text x="457" y="768" class="t" font-size="9.5">S-Gboxin</text>

<!-- K bars -->
<text x="548" y="680" class="t">Basal Respiration</text>
<text x="640" y="680" class="t">Maximal Respiration</text>
<text x="748" y="680" class="t">ATP Production</text>
<text transform="translate(517,790) rotate(-90)" class="t">OCR (pmol/min,10<tspan font-size="5" dy="-3">5</tspan><tspan dy="3"> cells)</tspan></text>
<path class="ax" d="M530,698V777H621M526,698H530M526,724.3H530M526,750.7H530M526,777H530"/>
<text x="524" y="701" class="t" text-anchor="end">150</text><text x="524" y="728" class="t" text-anchor="end">100</text><text x="524" y="754" class="t" text-anchor="end">50</text><text x="524" y="780" class="t" text-anchor="end">0</text>
<rect x="548" y="739" width="12" height="38" class="k"/><rect x="563" y="753.8" width="12" height="23.2" class="r"/><rect x="592" y="718.5" width="12" height="58.5" class="k"/><rect x="607" y="751.2" width="11" height="25.8" class="r"/>
<path class="ln" d="M554,731V748M551,720H566M553,698H590M595,703H615"/>
<text x="549" y="717" class="s">P=0.029</text><text x="560" y="695" class="s">P=0.005</text><text x="595" y="700" class="s">P&lt;0.001</text>
<path class="ax" d="M635,698V777H720M631,698H635M631,717.8H635M631,737.5H635M631,757.3H635M631,777H635"/>
<text x="629" y="701" class="t" text-anchor="end">200</text><text x="629" y="721" class="t" text-anchor="end">150</text><text x="629" y="741" class="t" text-anchor="end">100</text><text x="629" y="760" class="t" text-anchor="end">50</text><text x="629" y="780" class="t" text-anchor="end">0</text>
<rect x="645" y="740.7" width="12" height="36.3" class="k"/><rect x="664" y="763.2" width="13" height="13.8" class="r"/><rect x="686" y="713" width="11" height="64" class="k"/><rect x="703" y="758.4" width="11" height="18.6" class="r"/>
<path class="ln" d="M651,735V745M670,755V772M646,721H664M651,697H685M690,703H712"/>
<text x="645" y="718" class="s">P=0.016</text><text x="655" y="694" class="s">P=0.005</text><text x="690" y="700" class="s">P&lt;0.001</text>
<path class="ax" d="M737,698V777H822M733,698H737M733,713.8H737M733,729.6H737M733,745.4H737M733,761.2H737M733,777H737"/>
<text x="731" y="701" class="t" text-anchor="end">100</text><text x="731" y="717" class="t" text-anchor="end">80</text><text x="731" y="733" class="t" text-anchor="end">60</text><text x="731" y="749" class="t" text-anchor="end">40</text><text x="731" y="764" class="t" text-anchor="end">20</text><text x="731" y="780" class="t" text-anchor="end">0</text>
<rect x="743" y="732.8" width="14" height="44.2" class="k"/><rect x="762" y="743" width="13" height="34" class="r"/><rect x="787" y="714.6" width="13" height="62.4" class="k"/><rect x="806" y="749.4" width="12" height="27.6" class="r"/>
<path class="ln" d="M750,729V739M747,724H765M749,698H783M791,707H812"/>
<text x="745" y="721" class="s">P=0.024</text><text x="755" y="695" class="s">P=0.001</text><text x="791" y="704" class="s">P&lt;0.001</text>
<text x="544" y="791" class="t" font-style="italic">Setd2<tspan font-size="5" dy="-3">WT</tspan></text><text x="588" y="791" class="t" font-style="italic">Setd2<tspan font-size="5" dy="-3">KO</tspan></text>
<text x="644" y="791" class="t" font-style="italic">Setd2<tspan font-size="5" dy="-3">WT</tspan></text><text x="684" y="791" class="t" font-style="italic">Setd2<tspan font-size="5" dy="-3">KO</tspan></text>
<text x="742" y="791" class="t" font-style="italic">Setd2<tspan font-size="5" dy="-3">WT</tspan></text><text x="785" y="791" class="t" font-style="italic">Setd2<tspan font-size="5" dy="-3">KO</tspan></text>
<rect x="823" y="746" width="5" height="10" class="k"/><text x="830" y="755" class="t" font-size="9.5">DMSO</text>
<rect x="823" y="760" width="5" height="10" class="r"/><text x="830" y="769" class="t" font-size="9.5">S-Gboxin</text>
</svg>
</body></html>
